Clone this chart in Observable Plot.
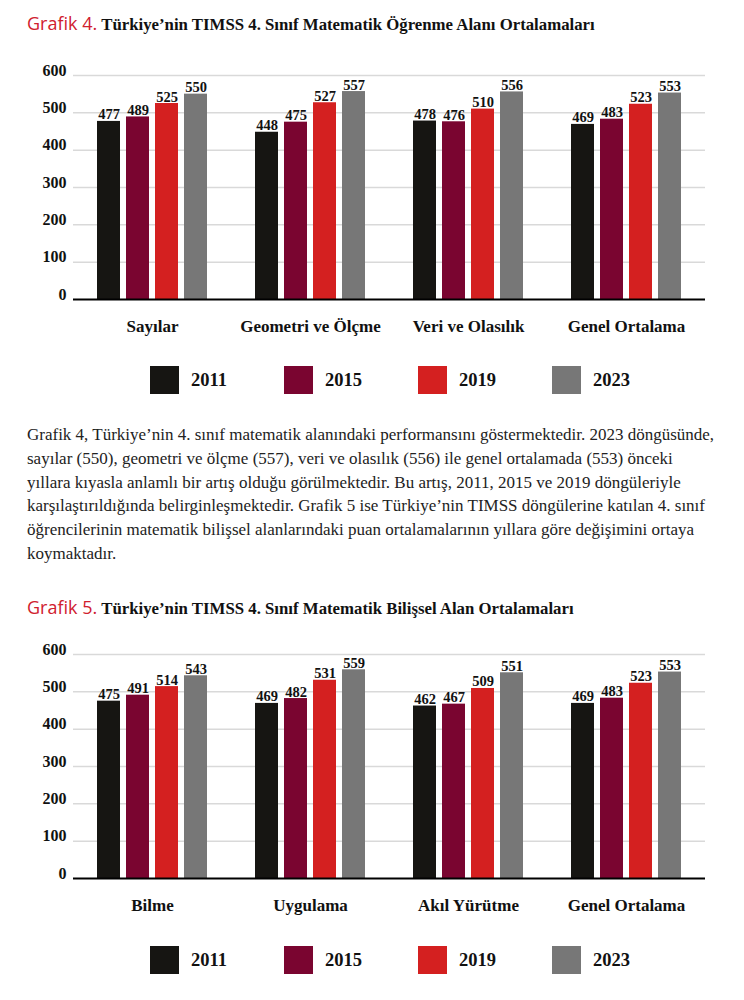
<!DOCTYPE html>
<html><head><meta charset="utf-8">
<script src="https://cdn.jsdelivr.net/npm/d3@7"></script>
<script src="https://cdn.jsdelivr.net/npm/@observablehq/plot@0.6"></script>
<style>
body{margin:0;background:#fff;width:744px;height:1000px;position:relative;overflow:hidden}
.title{position:absolute;left:27px;white-space:nowrap;font-family:"Liberation Serif",serif;font-weight:bold;font-size:16.8px;line-height:20px;color:#111}
.title .red{font-family:"Open Sans",sans-serif;font-weight:400;color:#d0202e;font-size:18px;margin-right:4px}
.chart{position:absolute;left:0}
.legend{position:absolute;left:150px;display:flex}
.item{width:134px;display:flex;align-items:center}
.sw{width:29px;height:28px;margin-right:12px}
.lbl{font-family:"Liberation Serif",serif;font-weight:bold;font-size:18.5px;color:#111}
.para{position:absolute;left:27px;font-family:"Liberation Serif",serif;font-size:17px;line-height:23.8px;white-space:nowrap;color:#222}
</style></head>
<body>
<div class="title" style="top:13px"><span class="red">Grafik 4.</span>Türkiye’nin TIMSS 4. Sınıf Matematik Öğrenme Alanı Ortalamaları</div>
<div id="c1" class="chart" style="top:45px"></div>
<div id="l1" class="legend" style="top:366px"></div>
<div class="para" style="top:423px">Grafik 4, Türkiye’nin 4. sınıf matematik alanındaki performansını göstermektedir. 2023 döngüsünde,<br>sayılar (550), geometri ve ölçme (557), veri ve olasılık (556) ile genel ortalamada (553) önceki<br>yıllara kıyasla anlamlı bir artış olduğu görülmektedir. Bu artış, 2011, 2015 ve 2019 döngüleriyle<br>karşılaştırıldığında belirginleşmektedir. Grafik 5 ise Türkiye’nin TIMSS döngülerine katılan 4. sınıf<br>öğrencilerinin matematik bilişsel alanlarındaki puan ortalamalarının yıllara göre değişimini ortaya<br>koymaktadır.</div>
<div class="title" style="top:597px"><span class="red">Grafik 5.</span>Türkiye’nin TIMSS 4. Sınıf Matematik Bilişsel Alan Ortalamaları</div>
<div id="c2" class="chart" style="top:624px"></div>
<div id="l2" class="legend" style="top:946px"></div>
<script>
const years = ["2011", "2015", "2019", "2023"];
const colors = ["#161512", "#7a0530", "#d42020", "#777777"];
const yTicks = [0, 100, 200, 300, 400, 500, 600];

const cats1 = ["Sayılar", "Geometri ve Ölçme", "Veri ve Olasılık", "Genel Ortalama"];
const s1_2011 = [477, 448, 478, 469];
const s1_2015 = [489, 475, 476, 483];
const s1_2019 = [525, 527, 510, 523];
const s1_2023 = [550, 557, 556, 553];

const cats2 = ["Bilme", "Uygulama", "Akıl Yürütme", "Genel Ortalama"];
const s2_2011 = [475, 469, 462, 469];
const s2_2015 = [491, 482, 467, 483];
const s2_2019 = [514, 531, 509, 523];
const s2_2023 = [543, 559, 551, 553];

function chart(cats, series) {
  const data = [];
  cats.forEach((c, i) => years.forEach((y, j) => data.push({cat: c, year: y, value: series[j][i]})));
  return Plot.plot({
    width: 744, height: 300,
    marginLeft: 73, marginRight: 39, marginTop: 30, marginBottom: 46,
    fx: {domain: cats, padding: 0, label: null},
    x: {domain: years, paddingInner: 0.22, paddingOuter: 0.79, axis: null},
    y: {domain: [0, 600], axis: null},
    color: {domain: years, range: colors},
    style: {fontFamily: "Liberation Serif, serif", color: "#111", background: "transparent"},
    marks: [
      Plot.ruleY(yTicks.slice(1), {stroke: "#d9d9d9", strokeWidth: 1.5}),
      Plot.barY(data, {fx: "cat", x: "year", y: "value", fill: "year"}),
      Plot.ruleY([0], {stroke: "#000", strokeWidth: 2}),
      Plot.text(data, {fx: "cat", x: "year", y: "value", text: d => String(d.value), dy: -2, lineAnchor: "bottom", fontSize: 14.5, fontWeight: "bold", fill: "#111"}),
      Plot.axisY(yTicks, {tickSize: 0, tickPadding: 7, dy: -5, fontSize: 16, fontWeight: "bold", label: null}),
      Plot.axisFx({anchor: "bottom", tickSize: 0, tickPadding: 20, fontSize: 17, fontWeight: "bold", label: null})
    ]
  });
}

function legend(el) {
  years.forEach((y, i) => {
    const it = document.createElement("div"); it.className = "item";
    const sw = document.createElement("div"); sw.className = "sw"; sw.style.background = colors[i];
    const lb = document.createElement("div"); lb.className = "lbl"; lb.textContent = y;
    it.appendChild(sw); it.appendChild(lb); el.appendChild(it);
  });
}

document.getElementById("c1").appendChild(chart(cats1, [s1_2011, s1_2015, s1_2019, s1_2023]));
document.getElementById("c2").appendChild(chart(cats2, [s2_2011, s2_2015, s2_2019, s2_2023]));
legend(document.getElementById("l1"));
legend(document.getElementById("l2"));
</script>
</body></html>
